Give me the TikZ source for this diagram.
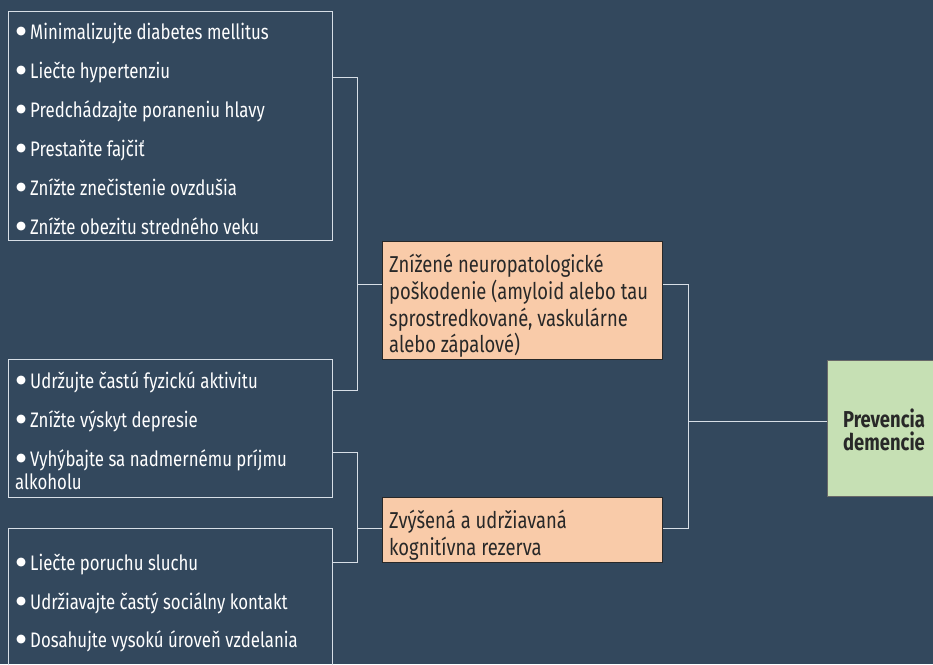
\documentclass[tikz,border=0pt]{standalone}
\usepackage{fontspec}
\setmainfont{Fira Sans}[FakeStretch=0.80]
\newfontfamily\dejavu{DejaVu Sans}
\definecolor{bgc}{RGB}{51,72,93}
\definecolor{linec}{RGB}{215,222,230}
\definecolor{orfill}{RGB}{249,203,169}
\definecolor{grfill}{RGB}{198,224,180}
\definecolor{darktx}{RGB}{40,40,40}
\newcommand\bulfont{\fontsize{21}{24}\selectfont}
\newcommand\orfont{\fontsize{23}{27}\selectfont}
\newcommand\grfont{\fontsize{23}{23}\selectfont\bfseries}
\newsavebox\bubox
\newcommand\bu{\sbox\bubox{\dejavu\fontsize{11.5}{11.5}\selectfont ●}\makebox[14pt][l]{\raisebox{\dimexpr 7pt-0.5\ht\bubox+0.5\dp\bubox\relax}{\usebox\bubox}}}
\tikzset{
  wbox/.style={draw=linec, line width=1pt, anchor=north west, inner sep=0pt},
  obox/.style={draw=darktx, fill=orfill, line width=1.2pt, anchor=north west, inner sep=0pt},
  gbox/.style={draw=darktx!70, fill=grfill, line width=1.2pt, anchor=north west, inner sep=0pt},
  bul/.style={anchor=base west, inner sep=0pt, text=white, font=\bulfont},
  otx/.style={anchor=base west, inner sep=0pt, text=darktx, font=\orfont},
  gtx/.style={anchor=base, inner sep=0pt, text=darktx, font=\grfont},
  conn/.style={draw=linec, line width=1pt}
}
\begin{document}
\begin{tikzpicture}[x=1pt,y=-1pt]
\fill[bgc] (0,0) rectangle (933,664);
\useasboundingbox (0,0) rectangle (933,664);
\clip (0,0) rectangle (933,664);
% boxes
\node[wbox, minimum width=324pt, minimum height=229pt] (b1) at (8,11) {};
\node[wbox, minimum width=324pt, minimum height=138pt] (b2) at (8,359) {};
\node[wbox, minimum width=324pt, minimum height=170pt] (b3) at (8,528) {};
\node[obox, minimum width=280pt, minimum height=118pt] (o1) at (382,241) {};
\node[obox, minimum width=280pt, minimum height=65pt] (o2) at (382,497) {};
\node[gbox, minimum width=140pt, minimum height=136pt] (g) at (827,360) {};
% box 1 texts
\node[bul] (t11) at (16,39) {\bu Minimalizujte diabetes mellitus};
\node[bul] (t12) at (16,78) {\bu Liečte hypertenziu};
\node[bul] (t13) at (16,117) {\bu Predchádzajte poraneniu hlavy};
\node[bul] (t14) at (16,156) {\bu Prestaňte fajčiť};
\node[bul] (t15) at (16,195) {\bu Znížte znečistenie ovzdušia};
\node[bul] (t16) at (16,234) {\bu Znížte obezitu stredného veku};
% box 2 texts
\node[bul] (t21) at (16,388) {\bu Udržujte častú fyzickú aktivitu};
\node[bul] (t22) at (16,427) {\bu Znížte výskyt depresie};
\node[bul] (t23) at (16,466) {\bu Vyhýbajte sa nadmernému príjmu};
\node[bul] (t24) at (15,489) {alkoholu};
% box 3 texts
\node[bul] (t31) at (16,570) {\bu Liečte poruchu sluchu};
\node[bul] (t32) at (16,609) {\bu Udržiavajte častý sociálny kontakt};
\node[bul] (t33) at (16,647) {\bu Dosahujte vysokú úroveň vzdelania};
% orange texts
\node[otx] (o11) at (389,272) {Znížené neuropatologické};
\node[otx] (o12) at (389,299) {poškodenie (amyloid alebo tau};
\node[otx] (o13) at (389,326) {sprostredkované, vaskulárne};
\node[otx] (o14) at (389,352) {alebo zápalové)};
\node[otx] (o21) at (389,528) {Zvýšená a udržiavaná};
\node[otx] (o22) at (389,555) {kognitívna rezerva};
% green texts
\node[gtx] (g1) at (884,427) {Prevencia};
\node[gtx] (g2) at (884,450) {demencie};
% junctions
\coordinate (j1) at (357,77);
\coordinate (j2) at (357,390);
\coordinate (j3) at (357,284);
\coordinate (j4) at (357,452);
\coordinate (j5) at (357,562);
\coordinate (j6) at (357,528);
\coordinate (j7) at (688,284);
\coordinate (j8) at (688,528);
\coordinate (j9) at (688,421);
% connectors
\draw[conn] (b1.east |- j1) -- (j1) -- (j2) -- (b2.east |- j2);
\draw[conn] (j3) -- (o1.west |- j3);
\draw[conn] (b2.east |- j4) -- (j4) -- (j5) -- (b3.east |- j5);
\draw[conn] (j6) -- (o2.west |- j6);
\draw[conn] (o1.east |- j7) -- (j7) -- (j8) -- (o2.east |- j8);
\draw[conn] (j9) -- (g.west |- j9);
\end{tikzpicture}
\end{document}
